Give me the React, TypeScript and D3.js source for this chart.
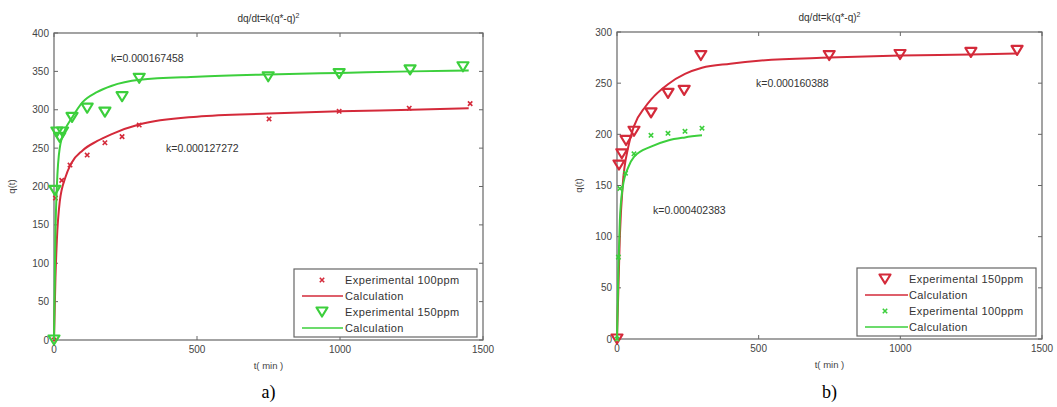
import React from "react";
import * as d3 from "d3";

// ---------- Data: panel a ----------
const A_EXP100_T = [0, 5, 27, 56, 116, 178, 238, 298, 752, 997, 1242, 1455];
const A_EXP100_Q = [0, 185, 208, 228, 241, 257, 265, 280, 288, 298, 302, 308];
const A_EXP150_T = [0, 3, 10, 20, 30, 63, 116, 178, 238, 298, 749, 997, 1245, 1430];
const A_EXP150_Q = [0, 195, 271, 264, 271, 290, 302, 297, 317, 341, 343, 347, 352, 356];
const A_CALC_T = [0, 5, 10, 20, 40, 60, 100, 150, 200, 300, 500, 750, 1000, 1250, 1450];
const A_CALC100_Q = [0, 80, 130, 180, 212, 230, 247, 259, 268, 281, 291, 295, 298, 300, 302];
const A_CALC150_Q = [0, 140, 200, 250, 275, 288, 310, 323, 331, 339, 343, 346, 348, 350, 351];
const A_Y_TICKS = [0, 50, 100, 150, 200, 250, 300, 350, 400];

// ---------- Data: panel b ----------
const B_EXP150_T = [0, 7, 17, 32, 60, 120, 180, 237, 296, 749, 999, 1249, 1412];
const B_EXP150_Q = [0, 170, 181, 194, 203, 221, 240, 243, 277, 277, 278, 280, 282];
const B_EXP100_T = [0, 5, 10, 30, 60, 120, 180, 240, 300];
const B_EXP100_Q = [0, 80, 147, 162, 181, 199, 201, 203, 206];
const B_CALC150_T = [0, 10, 20, 40, 60, 100, 120, 180, 240, 300, 400, 500, 750, 1000, 1250, 1410];
const B_CALC150_Q = [0, 100, 150, 188, 208, 227, 234, 249, 259, 265, 269, 272, 275, 277, 278, 279];
const B_CALC100_T = [0, 5, 10, 20, 40, 60, 120, 180, 240, 300];
const B_CALC100_Q = [0, 70, 115, 148, 168, 178, 188, 194, 197, 199];
const B_Y_TICKS = [0, 50, 100, 150, 200, 250, 300];

const X_TICKS = [0, 500, 1000, 1500];

const RED = "#d42a3a";
const GREEN = "#3ccf3c";
const AXIS = "#666";
const FONT = "'Liberation Sans', Arial, sans-serif";

type Pt = [number, number];
const zip = (t: number[], q: number[]): Pt[] => t.map((v, i) => [v, q[i]]);

type Marker = "tri" | "x";

function MarkerShape({ kind, x, y, color }: { kind: Marker; x: number; y: number; color: string }) {
  if (kind === "tri") {
    const w = 5.5, h = 4.5;
    return (
      <path
        d={`M${x - w},${y - h}L${x + w},${y - h}L${x},${y + h}Z`}
        fill="none"
        stroke={color}
        strokeWidth={2.2}
        strokeLinejoin="round"
      />
    );
  }
  const s = 2.2;
  return (
    <path
      d={`M${x - s},${y - s}L${x + s},${y + s}M${x - s},${y + s}L${x + s},${y - s}`}
      stroke={color}
      strokeWidth={1.6}
    />
  );
}

interface Series {
  label: string;
  color: string;
  marker?: Marker;
  pts: Pt[];
  line?: boolean;
}

interface PanelProps {
  x0: number; x1: number; y0: number; y1: number; yMax: number; yTicks: number[];
  series: Series[];
  kLabels: { text: string; x: number; y: number }[];
  legend: { x: number; y: number; w: number; h: number; rowY: number[]; lineX0: number; lineX1: number; markerX: number; textX: number };
  yLabelX: number;
  subLabel: string;
}

function Panel(p: PanelProps) {
  const xs = d3.scaleLinear().domain([0, 1500]).range([p.x0, p.x1]);
  const ys = d3.scaleLinear().domain([0, p.yMax]).range([p.y1, p.y0]);
  const lineGen = d3
    .line<Pt>()
    .x((d) => xs(d[0]))
    .y((d) => ys(d[1]))
    .curve(d3.curveMonotoneX);
  const cx = (p.x0 + p.x1) / 2;
  const tl = 4;
  return (
    <g>
      <text x={cx} y={p.y0 - 11} textAnchor="middle" fontFamily={FONT} fontSize={10} fill="#333">
        dq/dt=k(q*-q)<tspan dy={-4} fontSize={7}>2</tspan>
      </text>
      <rect x={p.x0} y={p.y0} width={p.x1 - p.x0} height={p.y1 - p.y0} fill="none" stroke={AXIS} strokeWidth={1.2} />
      {X_TICKS.map((t) => (
        <g key={"xt" + t}>
          <line x1={xs(t)} x2={xs(t)} y1={p.y1} y2={p.y1 - tl} stroke={AXIS} />
          <line x1={xs(t)} x2={xs(t)} y1={p.y0} y2={p.y0 + tl} stroke={AXIS} />
          <text x={xs(t)} y={p.y1 + 13} textAnchor="middle" fontFamily={FONT} fontSize={10} fill="#444">
            {t}
          </text>
        </g>
      ))}
      {p.yTicks.map((t) => (
        <g key={"yt" + t}>
          <line x1={p.x0} x2={p.x0 + tl} y1={ys(t)} y2={ys(t)} stroke={AXIS} />
          <line x1={p.x1} x2={p.x1 - tl} y1={ys(t)} y2={ys(t)} stroke={AXIS} />
          <text x={p.x0 - 5} y={ys(t) + 3.5} textAnchor="end" fontFamily={FONT} fontSize={10} fill="#444">
            {t}
          </text>
        </g>
      ))}
      <text x={cx} y={p.y1 + 29} textAnchor="middle" fontFamily={FONT} fontSize={9.5} fill="#444">
        t( min )
      </text>
      <text
        transform={`translate(${p.yLabelX},${(p.y0 + p.y1) / 2}) rotate(-90)`}
        textAnchor="middle"
        fontFamily={FONT}
        fontSize={9.5}
        fill="#444"
      >
        q(t)
      </text>
      {p.series.map((s, i) =>
        s.line ? (
          <path key={"s" + i} d={lineGen(s.pts) || ""} fill="none" stroke={s.color} strokeWidth={2} />
        ) : (
          <g key={"s" + i}>
            {s.pts.map((d, j) => (
              <MarkerShape key={j} kind={s.marker!} x={xs(d[0])} y={ys(d[1])} color={s.color} />
            ))}
          </g>
        )
      )}
      {p.kLabels.map((k, i) => (
        <text key={"k" + i} x={k.x} y={k.y} fontFamily={FONT} fontSize={10.5} fill="#333">
          {k.text}
        </text>
      ))}
      <rect x={p.legend.x} y={p.legend.y} width={p.legend.w} height={p.legend.h} fill="#fff" stroke={AXIS} strokeWidth={1.2} />
      {p.series.map((s, i) => {
        const ry = p.legend.rowY[i];
        return (
          <g key={"l" + i}>
            {s.line ? (
              <line x1={p.legend.lineX0} x2={p.legend.lineX1} y1={ry} y2={ry} stroke={s.color} strokeWidth={2} opacity={0.75} />
            ) : (
              <MarkerShape kind={s.marker!} x={p.legend.markerX} y={ry} color={s.color} />
            )}
            <text x={p.legend.textX} y={ry + 4} fontFamily={FONT} fontSize={11} letterSpacing={0.4} fill="#333">
              {s.label}
            </text>
          </g>
        );
      })}
      <text x={cx} y={398} textAnchor="middle" fontFamily="'Liberation Serif', 'Times New Roman', serif" fontSize={18} fill="#000">
        {p.subLabel}
      </text>
    </g>
  );
}

export default function App() {
  return (
    <svg
      width={1057}
      height={407}
      style={{ position: "absolute", left: 0, top: 0, background: "#fff" }}
    >
      <rect width={1057} height={407} fill="#fff" />
      <Panel
        x0={54}
        x1={483}
        y0={33}
        y1={340}
        yMax={400}
        yTicks={A_Y_TICKS}
        yLabelX={15}
        subLabel="a)"
        series={[
          { label: "Experimental 100ppm", color: RED, marker: "x", pts: zip(A_EXP100_T, A_EXP100_Q) },
          { label: "Calculation", color: RED, line: true, pts: zip(A_CALC_T, A_CALC100_Q) },
          { label: "Experimental 150ppm", color: GREEN, marker: "tri", pts: zip(A_EXP150_T, A_EXP150_Q) },
          { label: "Calculation", color: GREEN, line: true, pts: zip(A_CALC_T, A_CALC150_Q) },
        ]}
        kLabels={[
          { text: "k=0.000167458", x: 111, y: 62 },
          { text: "k=0.000127272", x: 166, y: 152 },
        ]}
        legend={{ x: 294, y: 269, w: 183, h: 68, rowY: [280, 296, 312, 328], lineX0: 302, lineX1: 343, markerX: 322, textX: 345 }}
      />
      <Panel
        x0={617}
        x1={1042}
        y0={32}
        y1={339}
        yMax={300}
        yTicks={B_Y_TICKS}
        yLabelX={582}
        subLabel="b)"
        series={[
          { label: "Experimental 150ppm", color: RED, marker: "tri", pts: zip(B_EXP150_T, B_EXP150_Q) },
          { label: "Calculation", color: RED, line: true, pts: zip(B_CALC150_T, B_CALC150_Q) },
          { label: "Experimental 100ppm", color: GREEN, marker: "x", pts: zip(B_EXP100_T, B_EXP100_Q) },
          { label: "Calculation", color: GREEN, line: true, pts: zip(B_CALC100_T, B_CALC100_Q) },
        ]}
        kLabels={[
          { text: "k=0.000160388", x: 756, y: 87 },
          { text: "k=0.000402383", x: 653, y: 214 },
        ]}
        legend={{ x: 857, y: 268, w: 179, h: 68, rowY: [279, 295, 311, 327], lineX0: 865, lineX1: 908, markerX: 885, textX: 909 }}
      />
    </svg>
  );
}
